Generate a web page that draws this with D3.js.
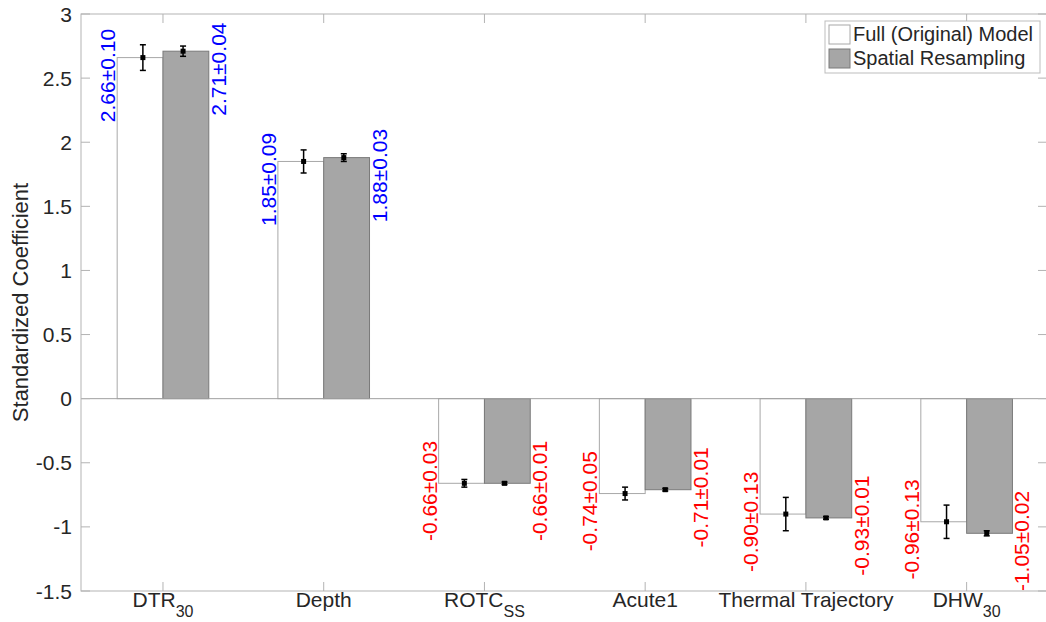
<!DOCTYPE html>
<html>
<head>
<meta charset="utf-8">
<script src="https://cdn.jsdelivr.net/npm/d3@7"></script>
<style>
  body { margin: 0; background: #fff; }
  svg { font-family: "Liberation Sans", Arial, Helvetica, sans-serif; }
</style>
</head>
<body>
<svg id="chart" width="1046" height="622"></svg>
<script>
// categories and their subscripts
var categories = ['DTR', 'Depth', 'ROTC', 'Acute1', 'Thermal Trajectory', 'DHW'];
var subscripts = ['30', '', 'SS', '', '', '30'];

// Full (Original) Model
var fullValues = [2.66, 1.85, -0.66, -0.74, -0.90, -0.96];
var fullErrors = [0.10, 0.09, 0.03, 0.05, 0.13, 0.13];

// Spatial Resampling
var spatialValues = [2.71, 1.88, -0.66, -0.71, -0.93, -1.05];
var spatialErrors = [0.04, 0.03, 0.01, 0.01, 0.01, 0.02];

var yTicks = [-1.5, -1, -0.5, 0, 0.5, 1, 1.5, 2, 2.5, 3];
var seriesNames = ['Full (Original) Model', 'Spatial Resampling'];

// window.top is read-only, so the plot box uses other names
var plotLeft = 81, plotTop = 14, plotRight = 1047, plotBottom = 591;
var axisColor = '#b3b3b3';
var textColor = '#262626';
var barW = 0.285, errOff = 0.125;

var svg = d3.select('#chart');

var x = d3.scaleLinear().domain([0.49, 6.5]).range([plotLeft, plotRight]);
var y = d3.scaleLinear().domain([-1.5, 3]).range([plotBottom, plotTop]);

var rows = categories.map(function(c, i) {
  return {i: i + 1, name: c, sub: subscripts[i],
    full: fullValues[i], fullErr: fullErrors[i],
    sp: spatialValues[i], spErr: spatialErrors[i]};
});

// bars
var bars = svg.append('g');
bars.selectAll('rect.full').data(rows).enter().append('rect')
  .attr('x', function(d) { return x(d.i - barW); })
  .attr('width', function(d) { return x(d.i) - x(d.i - barW); })
  .attr('y', function(d) { return y(Math.max(0, d.full)); })
  .attr('height', function(d) { return Math.abs(y(d.full) - y(0)); })
  .attr('fill', '#fff').attr('stroke', '#a8a8a8').attr('stroke-width', 1);
bars.selectAll('rect.sp').data(rows).enter().append('rect')
  .attr('x', function(d) { return x(d.i); })
  .attr('width', function(d) { return x(d.i + barW) - x(d.i); })
  .attr('y', function(d) { return y(Math.max(0, d.sp)); })
  .attr('height', function(d) { return Math.abs(y(d.sp) - y(0)); })
  .attr('fill', '#a6a6a6').attr('stroke', '#7a7a7a').attr('stroke-width', 1);

// baseline
svg.append('line')
  .attr('x1', plotLeft).attr('x2', plotRight).attr('y1', y(0)).attr('y2', y(0))
  .attr('stroke', '#a0a0a0').attr('stroke-width', 1);

// axes box and ticks
var axes = svg.append('g').attr('stroke', axisColor).attr('stroke-width', 1).attr('fill', 'none');
axes.append('rect').attr('x', plotLeft).attr('y', plotTop)
  .attr('width', plotRight - plotLeft).attr('height', plotBottom - plotTop);
yTicks.forEach(function(t) {
  axes.append('line').attr('x1', plotLeft).attr('x2', plotLeft + 9).attr('y1', y(t)).attr('y2', y(t));
  axes.append('line').attr('x1', plotRight - 9).attr('x2', plotRight).attr('y1', y(t)).attr('y2', y(t));
});
rows.forEach(function(d) {
  axes.append('line').attr('x1', x(d.i)).attr('x2', x(d.i)).attr('y1', plotBottom).attr('y2', plotBottom - 9);
  axes.append('line').attr('x1', x(d.i)).attr('x2', x(d.i)).attr('y1', plotTop).attr('y2', plotTop + 9);
});

// y tick labels
svg.append('g').selectAll('text').data(yTicks).enter().append('text')
  .attr('x', plotLeft - 9).attr('y', function(t) { return y(t); })
  .attr('dy', '0.36em').attr('text-anchor', 'end')
  .attr('font-size', 21).attr('fill', textColor)
  .text(function(t) { return String(t); });

// x tick labels with subscripts
var xl = svg.append('g').selectAll('text').data(rows).enter().append('text')
  .attr('x', function(d) { return x(d.i); }).attr('y', 607)
  .attr('text-anchor', 'middle').attr('font-size', 21).attr('fill', textColor);
xl.append('tspan').text(function(d) { return d.name; });
xl.filter(function(d) { return d.sub; }).append('tspan')
  .attr('font-size', 16).attr('dy', 10).text(function(d) { return d.sub; });

// y axis title
svg.append('text')
  .attr('transform', 'translate(28,' + ((plotTop + plotBottom) / 2) + ') rotate(-90)')
  .attr('text-anchor', 'middle').attr('font-size', 22).attr('fill', textColor)
  .text('Standardized Coefficient');

// error bars
function errorBars(key, errKey, off) {
  var g = svg.append('g').attr('stroke', '#000').attr('stroke-width', 1.5);
  rows.forEach(function(d) {
    var cx = x(d.i + off), v = d[key], e = d[errKey];
    g.append('line').attr('x1', cx).attr('x2', cx).attr('y1', y(v - e)).attr('y2', y(v + e));
    g.append('line').attr('x1', cx - 3).attr('x2', cx + 3).attr('y1', y(v - e)).attr('y2', y(v - e));
    g.append('line').attr('x1', cx - 3).attr('x2', cx + 3).attr('y1', y(v + e)).attr('y2', y(v + e));
    g.append('rect').attr('x', cx - 2.5).attr('y', y(v) - 2.5).attr('width', 5).attr('height', 5)
      .attr('fill', '#000').attr('stroke', 'none');
  });
}
errorBars('full', 'fullErr', -errOff);
errorBars('sp', 'spErr', errOff);

// value labels
function labelText(v, e) { return v.toFixed(2) + '\u00b1' + e.toFixed(2); }
function labelCenter(v) { return v > 0 ? v - 0.14 : v - 0.06; }
var labels = svg.append('g').attr('font-size', 21).attr('text-anchor', 'middle');
rows.forEach(function(d) {
  labels.append('text')
    .attr('transform', 'translate(' + (x(d.i - barW) - 2) + ',' + y(labelCenter(d.full)) + ') rotate(-90)')
    .attr('fill', d.full > 0 ? '#0000ff' : '#ff0000')
    .text(labelText(d.full, d.fullErr));
  labels.append('text')
    .attr('transform', 'translate(' + (x(d.i + barW) + 17) + ',' + y(labelCenter(d.sp)) + ') rotate(-90)')
    .attr('fill', d.sp > 0 ? '#0000ff' : '#ff0000')
    .text(labelText(d.sp, d.spErr));
});

// legend
var lg = svg.append('g');
lg.append('rect').attr('x', 825).attr('y', 21).attr('width', 215).attr('height', 52)
  .attr('fill', '#fff').attr('stroke', '#bdbdbd');
seriesNames.forEach(function(name, i) {
  lg.append('rect').attr('x', 829).attr('y', 25 + i * 24).attr('width', 21).attr('height', 19)
    .attr('fill', i === 0 ? '#fff' : '#a6a6a6').attr('stroke', i === 0 ? '#a8a8a8' : '#7a7a7a');
  lg.append('text').attr('x', 853).attr('y', 41 + i * 24)
    .attr('font-size', 20).attr('fill', textColor).text(name);
});
</script>
</body>
</html>
